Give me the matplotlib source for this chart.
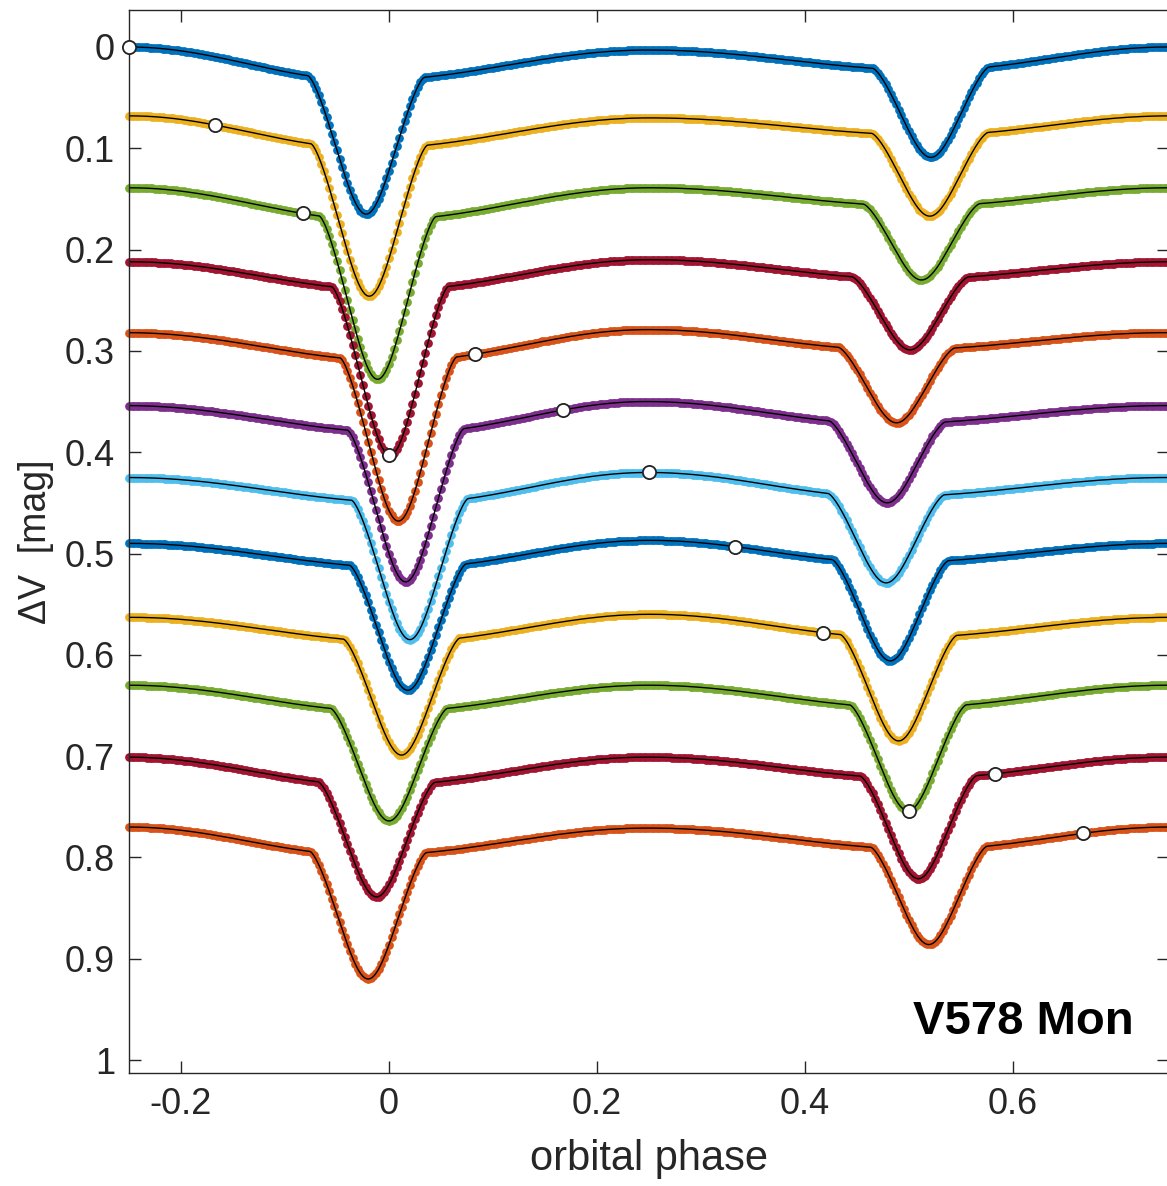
import numpy as np
import matplotlib
matplotlib.use("Agg")
import matplotlib.pyplot as plt

plt.rcParams['font.family'] = ['Liberation Sans', 'DejaVu Sans']
plt.rcParams['axes.unicode_minus'] = False

# one light curve per epoch, shifted down by an offset
colors = ['#0072BD', '#EDB120', '#77AC30', '#A2142F', '#D95319', '#7E2F8E',
          '#4DBEEE', '#0072BD', '#EDB120', '#77AC30', '#A2142F', '#D95319']
offset = [0.000, 0.068, 0.139, 0.212, 0.282, 0.354, 0.425, 0.490, 0.563, 0.630, 0.701, 0.770]
# phase of primary / secondary minimum
prim_phase = [-0.022, -0.019, -0.011, 0.001, 0.009, 0.016, 0.020, 0.018, 0.012, 0.000, -0.012, -0.020]
sec_phase = [0.521, 0.520, 0.512, 0.501, 0.488, 0.479, 0.478, 0.482, 0.490, 0.499, 0.509, 0.519]
# out-of-eclipse (ellipsoidal) amplitude near each eclipse
amp_p = [0.033, 0.032, 0.032, 0.028, 0.028, 0.027, 0.025, 0.024, 0.024, 0.026, 0.028, 0.028]
amp_s = [0.023, 0.019, 0.018, 0.017, 0.017, 0.018, 0.019, 0.019, 0.020, 0.022, 0.021, 0.022]
# level of the maximum near phase 0.25 relative to the one at -0.25
hump = [0.003, 0.002, 0.0, -0.002, -0.003, -0.004, -0.005, -0.003, -0.003, 0.0, 0.0, 0.001]
# eclipse depths below the out-of-eclipse level
depth_p = [0.132, 0.146, 0.157, 0.163, 0.158, 0.147, 0.135, 0.121, 0.112, 0.108, 0.110, 0.122]
depth_s = [0.086, 0.080, 0.073, 0.070, 0.072, 0.078, 0.085, 0.097, 0.102, 0.102, 0.099, 0.094]
# white circles
marker_phase = [-0.25, -0.167, -0.083, 0.0, 0.083, 0.167, 0.25, 0.333, 0.417, 0.5, 0.583, 0.667]

half_width = 0.056   # eclipse half duration in phase
impact = 0.7         # sky separation at mid eclipse (radii)


def overlap(d):
    d = np.clip(d, 0, 2)
    return 2*np.arccos(d/2) - d/2*np.sqrt(4 - d**2)


def eclipse(u):
    d = np.sqrt(impact**2 + (4 - impact**2)*u**2)
    return overlap(d)/overlap(np.array(impact))


def lightcurve(ph, i):
    p, s = prim_phase[i], sec_phase[i]
    x = (ph - p) % 1.0
    L = s - p
    m = np.zeros_like(ph)
    A = x < L
    t = x[A]/L
    m[A] = np.where(t < 0.5, amp_p[i], amp_s[i])*np.cos(np.pi*t)**2 + hump[i]*np.sin(np.pi*t)**2
    t2 = (x[~A] - L)/(1 - L)
    m[~A] = np.where(t2 < 0.5, amp_s[i], amp_p[i])*np.cos(np.pi*t2)**2
    dp = ((ph - p + 0.5) % 1) - 0.5
    ds = ((ph - s + 0.5) % 1) - 0.5
    m += depth_p[i]*eclipse(dp/half_width) + depth_s[i]*eclipse(ds/half_width)
    return offset[i] + m


fig = plt.figure(figsize=(11.67, 11.86), dpi=100)
ax = fig.add_axes([129/1167, 1 - 1073/1186, 1040/1167, 1063/1186])

phase = np.linspace(-0.25, 0.75, 401)
fine = np.linspace(-0.25, 0.75, 2001)
for i in range(len(offset)):
    ax.plot(phase, lightcurve(phase, i), 'o', color=colors[i], ms=6.3, mew=0, clip_on=False)
    ax.plot(fine, lightcurve(fine, i), '-', color='k', lw=1.0)
for i in range(len(offset)):
    mp = np.array([marker_phase[i]])
    ax.plot(mp, lightcurve(mp, i), 'o', mfc='white', mec='#222222', mew=1.3, ms=9.5,
            clip_on=False, zorder=5)

ax.set_xlim(-0.25, 0.75)
ax.set_ylim(1.0128, -0.0365)
ax.set_xticks([-0.2, 0, 0.2, 0.4, 0.6])
ax.set_xticklabels(['-0.2', '0', '0.2', '0.4', '0.6'])
ax.set_yticks(np.arange(0, 1.01, 0.1))
ax.set_yticklabels(['0', '0.1', '0.2', '0.3', '0.4', '0.5', '0.6', '0.7', '0.8', '0.9', '1'])
ax.tick_params(direction='in', length=8.5, width=1.0, top=True, right=True,
               labelsize=26, colors='#262626', pad=10)
for sp in ax.spines.values():
    sp.set_color('#262626')
    sp.set_linewidth(1.0)

ax.set_xlabel('orbital phase', fontsize=30, color='#262626', labelpad=12)
ax.set_ylabel('ΔV  [mag]', fontsize=27, color='#262626', labelpad=8)
ax.text(0.716, 0.974, 'V578 Mon', fontsize=34, fontweight='bold', ha='right', va='baseline')

fig.savefig('out.png', dpi=100)
